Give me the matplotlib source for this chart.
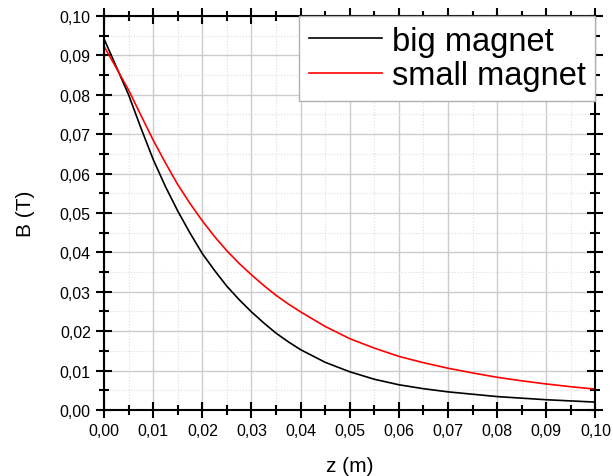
import matplotlib
matplotlib.use('Agg')
import matplotlib.pyplot as plt
from matplotlib.ticker import MultipleLocator, FuncFormatter

plt.rcParams['font.family'] = ['Liberation Sans', 'DejaVu Sans']

# values
z = [0.0, 0.0025, 0.005, 0.0075, 0.01, 0.0125, 0.015, 0.0175, 0.02, 0.0225, 0.025, 0.0275,
     0.03, 0.0325, 0.035, 0.0375, 0.04, 0.045, 0.05, 0.055, 0.06, 0.065, 0.07, 0.075,
     0.08, 0.085, 0.09, 0.095, 0.10]
b_big = [0.0942, 0.0871, 0.0800, 0.0716, 0.0636, 0.0567, 0.0505, 0.0449, 0.0397, 0.0354,
         0.0314, 0.0280, 0.0249, 0.0221, 0.0195, 0.0173, 0.0153, 0.0121, 0.0097, 0.0078,
         0.0064, 0.0054, 0.0046, 0.0040, 0.0034, 0.0030, 0.0026, 0.0023, 0.0020]
b_small = [0.0923, 0.0868, 0.0812, 0.0748, 0.0685, 0.0627, 0.0572, 0.0524, 0.0480, 0.0440,
           0.0404, 0.0372, 0.0343, 0.0316, 0.0291, 0.0269, 0.0249, 0.0212, 0.0181, 0.0157,
           0.0136, 0.0120, 0.0106, 0.0094, 0.0083, 0.0074, 0.0066, 0.0059, 0.0053]

fig = plt.figure(figsize=(6.13, 4.77), dpi=100)
ax = fig.add_axes([0.1697, 0.1384, 0.8017, 0.826])

ax.plot(z, b_big, color="black", lw=1.2, label="big magnet")
ax.plot(z, b_small, color="red", lw=1.2, label="small magnet")

ax.set_xlim(0, 0.10)
ax.set_ylim(0, 0.10)
ax.xaxis.set_major_locator(MultipleLocator(0.01))
ax.xaxis.set_minor_locator(MultipleLocator(0.005))
ax.yaxis.set_major_locator(MultipleLocator(0.01))
ax.yaxis.set_minor_locator(MultipleLocator(0.005))
comma = FuncFormatter(lambda v, p: ("%.2f" % v).replace(".", ","))
ax.xaxis.set_major_formatter(comma)
ax.yaxis.set_major_formatter(comma)

ax.grid(which="major", color="#cccccc", lw=1.0)
ax.grid(which="minor", color="#dddddd", lw=0.8, ls=":")
ax.set_axisbelow(True)

ax.tick_params(which="both", direction="inout", top=True, right=True, width=1.5, labelsize=11.5, colors="black")
ax.tick_params(which="major", length=12)
ax.tick_params(which="minor", length=7)
for s in ax.spines.values():
    s.set_linewidth(1.5)

ax.set_xlabel("z (m)", fontsize=15, labelpad=13)
ax.set_ylabel("B (T)", fontsize=15, labelpad=18)

leg = ax.legend(loc="upper right", bbox_to_anchor=(1.0, 1.0), borderaxespad=0, fontsize=23.5,
                fancybox=False, framealpha=1, edgecolor="#b0b0b0", handlelength=2.25,
                handletextpad=0.3, borderpad=0.3, labelspacing=0.1)
leg.get_frame().set_linewidth(1.0)

plt.savefig("out.png", dpi=100)
